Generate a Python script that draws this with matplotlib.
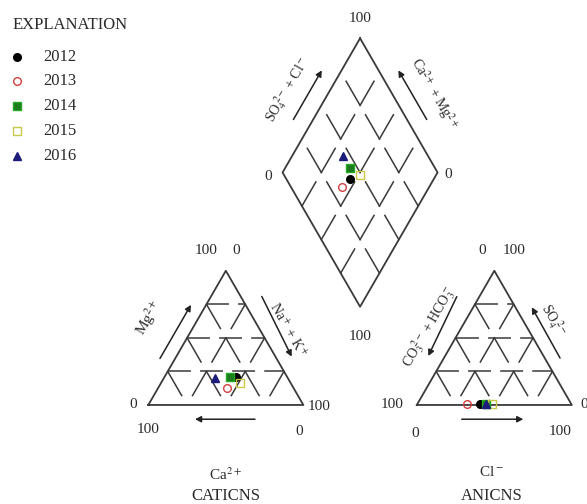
import numpy as np
import matplotlib
matplotlib.use("Agg")
import matplotlib.pyplot as plt

plt.rcParams['font.family'] = ['Liberation Serif', 'DejaVu Serif']
plt.rcParams['mathtext.fontset'] = 'stix'

# ----------------------------
# Data (percent of meq/L)
# ----------------------------
years = ["2012", "2013", "2014", "2015", "2016"]
ca = [33, 43, 37, 33, 47]
mg = [21, 13, 21, 16, 20]
na_k = [46, 44, 42, 51, 33]
hco3_co3 = [59, 67, 55, 51, 55]
so4 = [1, 1, 1, 1, 1]
cl = [40, 32, 44, 48, 44]

markers = ["o", "o", "s", "s", "^"]
faces = ["black", "none", "#1e7a1e", "none", "#1c1c7a"]
edges = ["black", "#d04040", "#22aa22", "#c8c84a", "#1c1c7a"]

# ----------------------------
# Geometry (triangle side = 1)
# ----------------------------
h = np.sqrt(3) / 2
gap = 0.732
ax0 = 1 + gap                      # anion triangle left vertex x
bx, by = 1 + gap / 2, gap * h      # diamond bottom vertex
grid_c = "#3a3a3a"
f = 0.72                           # drawn fraction of each grid segment

fig = plt.figure(figsize=(5.87, 5.04), dpi=100)
ax = fig.add_axes([0, 0, 1, 1])
ax.set_xlim(-0.957, 2.830)
ax.set_ylim(-0.639, 2.613)
ax.axis('off')


def seg(p, q, frac=1.0, **kw):
    p, q = np.array(p), np.array(q)
    q = p + (q - p) * frac
    ax.plot([p[0], q[0]], [p[1], q[1]], color=grid_c, lw=1.1, **kw)


def triangle(ox):
    ax.plot([ox, ox + 1, ox + 0.5, ox], [0, 0, h, 0], color=grid_c, lw=1.3)

    def P(a, b):
        return (ox + a * 0.25 + b * 0.125, b * 0.25 * h)
    for b in range(1, 4):
        # dashed horizontal grid line
        seg(P(0, b), P(4 - b, b), linestyle=(0, (15, 6)))
        for a in range(0, 5 - b):
            if a > 0:
                seg(P(a, b), P(a, b - 1), f)
            if a < 4 - b:
                seg(P(a, b), P(a + 1, b - 1), f)


triangle(0)
triangle(ax0)

# diamond
top = np.array([bx, by + 2 * h])
dl = np.array([-0.125, -0.25 * h])
dr = np.array([0.125, -0.25 * h])
Q = lambda i, j: top + i * dl + j * dr
d = [Q(0, 0), Q(4, 0), Q(4, 4), Q(0, 4), Q(0, 0)]
ax.plot([p[0] for p in d], [p[1] for p in d], color=grid_c, lw=1.3)
for i in range(1, 5):
    for j in range(1, 4):
        seg(Q(i, j), Q(i - 1, j), f)
for i in range(1, 4):
    for j in range(1, 5):
        seg(Q(i, j), Q(i, j - 1), f)

# ----------------------------
# Points
# ----------------------------
for k in range(len(years)):
    tot_c = ca[k] + mg[k] + na_k[k]
    tot_a = hco3_co3[k] + so4[k] + cl[k]
    m, n = mg[k] / tot_c, na_k[k] / tot_c
    s, c = so4[k] / tot_a, cl[k] / tot_a
    cx, cy = n + m / 2, m * h
    axx, ayy = ax0 + c + s / 2, s * h
    camg, so4cl = 1 - n, s + c
    dx = bx + (so4cl - camg) * 0.5
    dy = by + (so4cl + camg) * h
    for x, y in [(cx, cy), (axx, ayy), (dx, dy)]:
        ax.plot(x, y, marker=markers[k], ms=5.5, mfc=faces[k], mec=edges[k],
                mew=1.0, linestyle='none', zorder=5)

# ----------------------------
# Arrows and axis labels
# ----------------------------
def arrow(p, q):
    ax.annotate("", xy=q, xytext=p,
                arrowprops=dict(arrowstyle="-|>,head_length=0.35,head_width=0.18",
                                color="#222222", lw=1.1, shrinkA=0, shrinkB=0))


arrow((0.688, -0.092), (0.301, -0.092))
arrow((0.075, 0.300), (0.275, 0.646))
arrow((0.732, 0.700), (0.925, 0.312))
arrow((2.022, -0.092), (2.419, -0.092))
arrow((1.990, 0.699), (1.806, 0.316))
arrow((2.656, 0.303), (2.474, 0.630))
arrow((0.936, 1.842), (1.119, 2.159))
arrow((1.796, 1.842), (1.613, 2.159))

tc = "#2a2a2a"
labels = [
    ("Mg$^{2+}$", 0.005, 0.561, 60, 11),
    ("Na$^+$ + K$^+$", 0.900, 0.484, -60, 10),
    ("CO$_3^{\\ 2-}$ + HCO$_3^-$", 1.812, 0.505, 60, 10),
    ("SO$_4^{\\ 2-}$", 2.615, 0.548, -60, 10),
    ("SO$_4^{\\ 2-}$ + Cl$^-$", 0.900, 2.032, 60, 10),
    ("Ca$^{2+}$ + Mg$^{2+}$", 1.845, 2.01, -60, 10),
]
for txt, x, y, r, s in labels:
    ax.text(x, y, txt, rotation=r, ha='center', va='center', fontsize=s, color=tc)

nums = [
    ("100", 0.375, 0.994), ("0", 0.565, 0.994), ("0", -0.099, 0.0),
    ("100", 0.0, -0.161), ("0", 0.972, -0.172), ("100", 1.10, -0.011),
    ("0", 2.155, 0.995), ("100", 2.360, 0.995), ("100", 1.570, 0.0),
    ("0", 1.721, -0.183), ("100", 2.656, -0.172), ("0", 2.812, 0.0),
    ("100", 1.366, 2.495), ("0", 0.776, 1.473), ("0", 1.935, 1.484),
    ("100", 1.366, 0.445),
]
for txt, x, y in nums:
    ax.text(x, y, txt, ha='center', va='center', fontsize=11, color=tc)

ax.text(0.5, -0.452, "Ca$^{2+}$", ha='center', va='center', fontsize=11, color=tc)
ax.text(0.5, -0.588, "CATICNS", ha='center', va='center', fontsize=12, color=tc)
ax.text(2.216, -0.430, "Cl$^-$", ha='center', va='center', fontsize=11, color=tc)
ax.text(2.216, -0.588, "ANICNS", ha='center', va='center', fontsize=12, color=tc)

# ----------------------------
# Legend
# ----------------------------
ax.text(-0.879, 2.452, "EXPLANATION", ha='left', va='center', fontsize=12, color=tc)
leg_y = [2.245, 2.090, 1.929, 1.768, 1.606]
for k in range(len(years)):
    ax.plot(-0.847, leg_y[k], marker=markers[k], ms=5.5, mfc=faces[k],
            mec=edges[k], mew=1.0, linestyle='none')
    ax.text(-0.679, leg_y[k], years[k], ha='left', va='center', fontsize=12, color=tc)

fig.savefig("out.png", dpi=100)
